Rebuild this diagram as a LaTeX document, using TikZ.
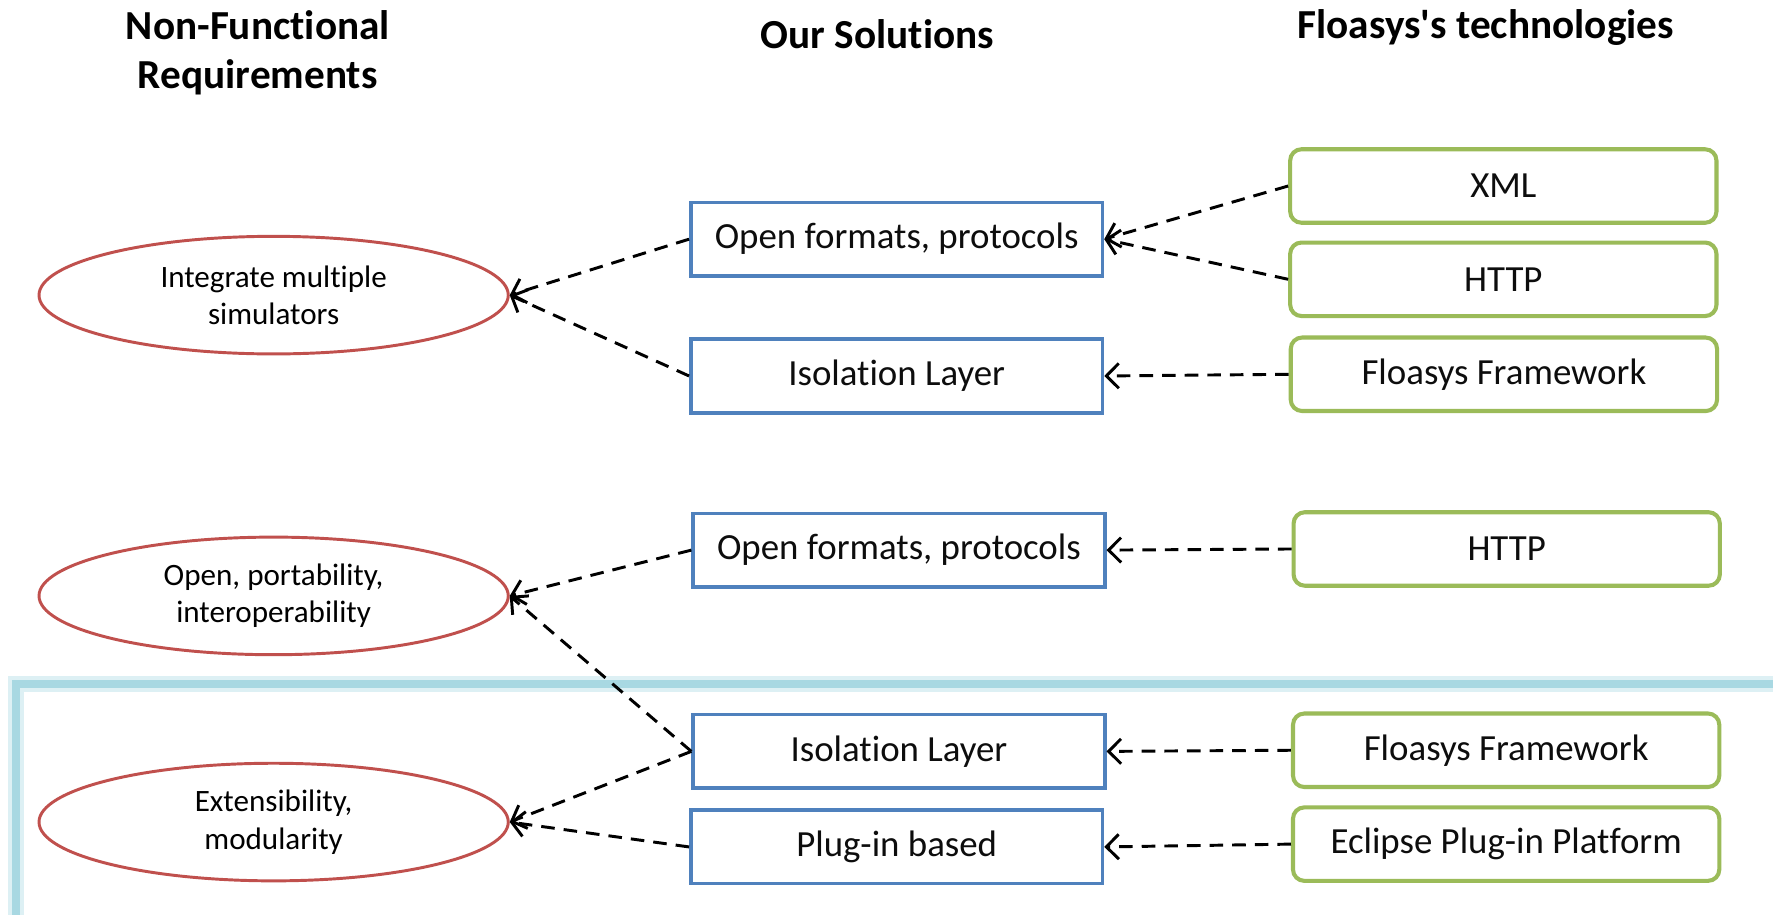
\documentclass[tikz,border=0pt]{standalone}
\usepackage{fontspec}
\setmainfont{Carlito}[Ligatures={NoCommon}]
\usetikzlibrary{arrows.meta,shapes.geometric}
\definecolor{offblue}{HTML}{4F81BD}
\definecolor{offgreen}{HTML}{9BBB59}
\definecolor{offred}{HTML}{C0504D}
\definecolor{frameblue}{HTML}{A8D8E2}
\definecolor{frameglow}{HTML}{DDF0F4}
\begin{document}
\begin{tikzpicture}[x=1pt,y=-1pt,
  solbox/.style={draw=offblue, line width=3.2pt, minimum width=364pt, minimum height=65pt, inner sep=0pt, text=black!95, font=\fontsize{32.6}{39}\selectfont},
  techbox/.style={draw=offgreen, line width=3.6pt, rounded corners=10pt, minimum width=377pt, minimum height=65pt, inner sep=0pt, text=black!95, font=\fontsize{32.6}{39}\selectfont},
  reqell/.style={ellipse, draw=offred, line width=2.6pt, minimum width=415pt, minimum height=104pt, inner sep=0pt, align=center, font=\fontsize{27.5}{33}\selectfont},
  heading/.style={font=\bfseries\fontsize{36.5}{43}\selectfont, align=center},
  dep/.style={dash pattern=on 12pt off 8pt, line width=2.6pt, -{Straight Barb[length=11pt, width=22pt]}}
]
\useasboundingbox (0,0) rectangle (1568,809);
\fill[white] (0,0) rectangle (1568,809);

% highlight frame
\draw[frameglow, line width=14pt] (14,830) -- (14,605) -- (1600,605);
\draw[frameblue, line width=7pt] (14,830) -- (14,605) -- (1600,605);

% headings
\node[heading] (h1) at (228,46.5) {Non-Functional\\Requirements};
\node[heading] (h2) at (776,30) {Our Solutions};
\node[heading] (h3) at (1314,24) {Floasys\textquotesingle s technologies};

% requirements
\node[reqell] (E1) at (242,261) {Integrate multiple\\simulators};
\node[reqell] (E2) at (242,527) {Open, portability,\\interoperability};
\node[reqell] (E3) at (242,727) {Extensibility,\\modularity};

% solutions
\node[solbox] (B1) at (793,211.5) {Open formats, protocols};
\node[solbox] (B2) at (793,332.5) {Isolation Layer};
\node[solbox] (B3) at (795,486.5) {Open formats, protocols};
\node[solbox] (B4) at (795,664.5) {Isolation Layer};
\node[solbox] (B5) at (793,749) {Plug-in based};

% technologies
\node[techbox] (G1) at (1329.5,164.5) {XML};
\node[techbox] (G2) at (1329.5,247) {HTTP};
\node[techbox] (G3) at (1330,331) {Floasys Framework};
\node[techbox] (G4) at (1332.5,485.5) {HTTP};
\node[techbox] (G5) at (1332,663.5) {Floasys Framework};
\node[techbox] (G6) at (1332,746.5) {Eclipse Plug-in Platform};

% connectors
\draw[dep] (B1.west) -- (E1.east);
\draw[dep] (B2.west) -- (E1.east);
\draw[dep] (G1.west) -- (B1.east);
\draw[dep] (G2.west) -- (B1.east);
\draw[dep] (G3.west) -- (B2.east);
\draw[dep] (B3.west) -- (E2.east);
\draw[dep] (B4.west) -- (E2.east);
\draw[dep] (B4.west) -- (E3.east);
\draw[dep] (B5.west) -- (E3.east);
\draw[dep] (G4.west) -- (B3.east);
\draw[dep] (G5.west) -- (B4.east);
\draw[dep] (G6.west) -- (B5.east);
\end{tikzpicture}
\end{document}
